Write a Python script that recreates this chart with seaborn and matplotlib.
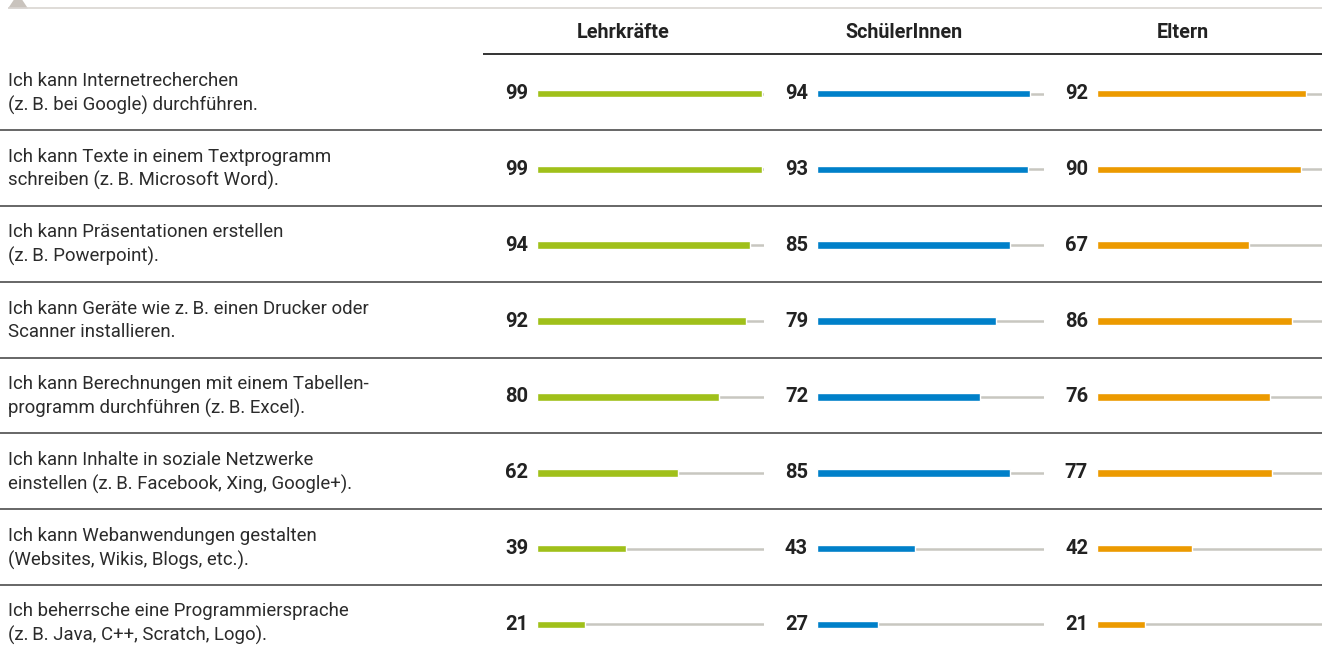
import numpy as np
import pandas as pd
import matplotlib
matplotlib.use("Agg")
import matplotlib.pyplot as plt
from matplotlib.patches import Polygon
import seaborn as sns

# ---------------- data ----------------
categories = [
    "Ich kann Internetrecherchen\n(z.\u2009B. bei Google) durchführen.",
    "Ich kann Texte in einem Textprogramm\nschreiben (z.\u2009B. Microsoft Word).",
    "Ich kann Präsentationen erstellen\n(z.\u2009B. Powerpoint).",
    "Ich kann Geräte wie z.\u2009B. einen Drucker oder\nScanner installieren.",
    "Ich kann Berechnungen mit einem Tabellen-\nprogramm durchführen (z.\u2009B. Excel).",
    "Ich kann Inhalte in soziale Netzwerke\neinstellen (z.\u2009B. Facebook, Xing, Google+).",
    "Ich kann Webanwendungen gestalten\n(Websites, Wikis, Blogs, etc.).",
    "Ich beherrsche eine Programmiersprache\n(z.\u2009B. Java, C++, Scratch, Logo).",
]
groups = ["Lehrkräfte", "SchülerInnen", "Eltern"]
lehrkraefte = [99, 99, 94, 92, 80, 62, 39, 21]
schueler = [94, 93, 85, 79, 72, 85, 43, 27]
eltern = [92, 90, 67, 86, 76, 77, 42, 21]
series = [lehrkraefte, schueler, eltern]
colors = ["#a0c01a", "#0080c9", "#ec9a00"]

# ---------------- style ----------------
sns.set_theme(style="white")
plt.rcParams["font.family"] = ["Roboto", "DejaVu Sans"]
TEXT = "#222222"

W, H = 1322, 663
fig = plt.figure(figsize=(W / 100, H / 100), dpi=100)

def fx(px):
    return px / W

def fy(py):
    return 1 - py / H

# background axes in pixel coordinates (for layout rules / labels)
bg = fig.add_axes([0, 0, 1, 1])
bg.set_xlim(0, W)
bg.set_ylim(H, 0)
bg.axis("off")

row_top = 54.2
row_h = 75.83
n = len(categories)

# top decoration
bg.plot([8, W], [8, 8], color="#d9d5d1", lw=1.2, solid_capstyle="butt")
bg.add_patch(Polygon([[8, 8.5], [28, 8.5], [21, -2], [15, -2]], closed=True,
                     color="#c9c3bd", lw=0))

# header line
bg.plot([483, W], [53.5, 53.5], color="#333333", lw=1.4, solid_capstyle="butt")
# row separators
for k in range(1, n):
    y = row_top + k * row_h
    bg.plot([0, W], [y, y], color="#5a5a5a", lw=1.3, solid_capstyle="butt")

# row labels
for k, lab in enumerate(categories):
    yc = row_top + (k + 0.5) * row_h
    bg.text(8, yc + 1, lab, ha="left", va="center", fontsize=13.4,
            fontweight="normal", color="#2b2b2b", linespacing=1.38)

# group axes
ax_left = [537, 817, 1097]
ax_w = 227
hdr_centers = [(483 + 764) / 2, (764 + 1044) / 2, (1044 + 1322) / 2]
for g, (name, vals, col, x0, hc) in enumerate(zip(groups, series, colors, ax_left, hdr_centers)):
    ax = fig.add_axes([fx(x0), fy(row_top + n * row_h + 1.5), fx(ax_w), (n * row_h) / H])
    df = pd.DataFrame({"cat": categories, "val": vals})
    ax.hlines(np.arange(n), 0, 100, color="#c8c7c0", lw=1.8, zorder=0)
    sns.barplot(data=df, x="val", y="cat", orient="h", color=col, width=0.1,
                saturation=1, ax=ax, zorder=2)
    ax.set_xlim(0, 100)
    ax.set_ylim(n - 0.5, -0.5)
    ax.axis("off")
    for i, v in enumerate(vals):
        ax.annotate(str(v), xy=(0, i), xytext=(-9, 0), textcoords="offset pixels",
                    ha="right", va="center", fontsize=14.5, fontweight="bold", color=TEXT)
    bg.text(hc, 32, name, ha="center", va="center", fontsize=14.2,
            fontweight="bold", color=TEXT)

fig.savefig("out.png", dpi=100)
